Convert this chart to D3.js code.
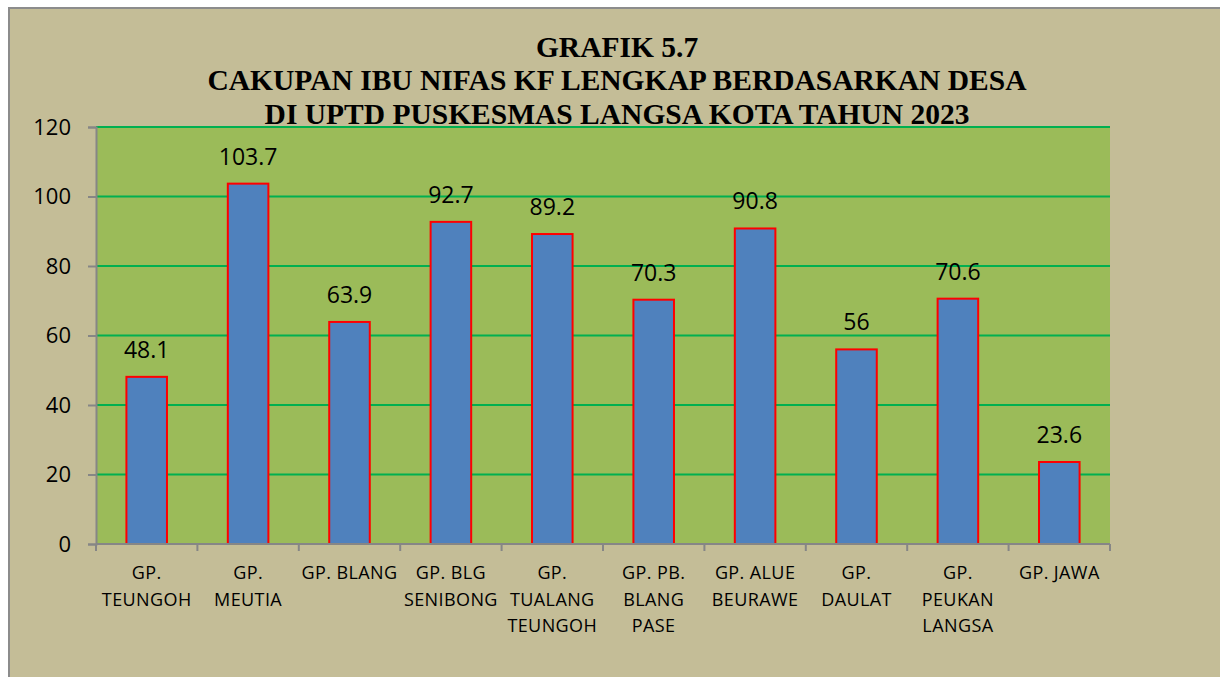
<!DOCTYPE html>
<html>
<head>
<meta charset="utf-8">
<script src="https://cdn.jsdelivr.net/npm/d3@7"></script>
<style>
  body { margin: 0; background: #fff; }
  svg { display: block; }
</style>
</head>
<body>
<div id="chart"></div>
<script>
var vWidth = 1220;
var vHeight = 677;

// data
var categories = [
    ["GP.", "TEUNGOH"],
    ["GP.", "MEUTIA"],
    ["GP. BLANG"],
    ["GP. BLG", "SENIBONG"],
    ["GP.", "TUALANG", "TEUNGOH"],
    ["GP. PB.", "BLANG", "PASE"],
    ["GP. ALUE", "BEURAWE"],
    ["GP.", "DAULAT"],
    ["GP.", "PEUKAN", "LANGSA"],
    ["GP. JAWA"]
];
var values = [48.1, 103.7, 63.9, 92.7, 89.2, 70.3, 90.8, 56, 70.6, 23.6];
var yTicks = [0, 20, 40, 60, 80, 100, 120];
var titleLines = [
    "GRAFIK 5.7",
    "CAKUPAN IBU NIFAS KF LENGKAP BERDASARKAN DESA",
    "DI UPTD PUSKESMAS LANGSA KOTA TAHUN 2023"
];

var plot = { left: 96, right: 1110, top: 127, bottom: 544 };
var labelFont = "'Open Sans', 'Liberation Sans', sans-serif";

var svg = d3.select("#chart")
    .append("svg")
        .attr("width", vWidth)
        .attr("height", vHeight);

// chart area background + border
svg.append("rect")
    .attr("x", 9).attr("y", 8)
    .attr("width", vWidth).attr("height", vHeight)
    .style("fill", "#C4BD97")
    .style("stroke", "#8c8c8c")
    .style("stroke-width", 2);

var x = d3.scaleBand()
    .domain(d3.range(categories.length))
    .range([plot.left, plot.right])
    .paddingInner(0.6)
    .paddingOuter(0.3);

var y = d3.scaleLinear()
    .domain([0, 120])
    .range([plot.bottom, plot.top]);

// plot area
svg.append("rect")
    .attr("x", plot.left).attr("y", plot.top)
    .attr("width", plot.right - plot.left).attr("height", plot.bottom - plot.top)
    .style("fill", "#9BBB59");

// gridlines
svg.append("g").selectAll("line")
    .data(yTicks.filter(function (d) { return d > 0; }))
    .enter().append("line")
        .attr("x1", plot.left).attr("x2", plot.right)
        .attr("y1", function (d) { return y(d); })
        .attr("y2", function (d) { return y(d); })
        .style("stroke", "#00B050")
        .style("stroke-width", 2);

// bars
svg.append("g").selectAll("rect")
    .data(values)
    .enter().append("rect")
        .attr("x", function (d, i) { return x(i); })
        .attr("y", function (d) { return y(d); })
        .attr("width", x.bandwidth())
        .attr("height", function (d) { return y(0) - y(d); })
        .style("fill", "#4F81BD")
        .style("stroke", "#FF0000")
        .style("stroke-width", 2);

// value labels
svg.append("g").selectAll("text")
    .data(values)
    .enter().append("text")
        .attr("x", function (d, i) { return x(i) + x.bandwidth() / 2; })
        .attr("y", function (d) { return y(d) - 19; })
        .attr("text-anchor", "middle")
        .style("font-family", labelFont)
        .style("font-size", "23px")
        .style("fill", "#000")
        .text(function (d) { return d; });

// y axis
var yAxis = d3.axisLeft(y).tickValues(yTicks).tickSize(8).tickPadding(17);
var gy = svg.append("g")
    .attr("transform", "translate(" + plot.left + ",0)")
    .call(yAxis);
gy.select(".domain").style("stroke", "#868686").style("stroke-width", 2);
gy.selectAll(".tick line").style("stroke", "#868686").style("stroke-width", 2);
gy.selectAll(".tick text")
    .style("font-family", labelFont)
    .style("font-size", "22px")
    .style("fill", "#000");

// x axis line + ticks at band boundaries
var bounds = d3.range(categories.length + 1).map(function (i) {
    return plot.left + i * (plot.right - plot.left) / categories.length;
});
svg.append("line")
    .attr("x1", plot.left).attr("x2", plot.right)
    .attr("y1", plot.bottom).attr("y2", plot.bottom)
    .style("stroke", "#868686").style("stroke-width", 2);
svg.append("g").selectAll("line")
    .data(bounds)
    .enter().append("line")
        .attr("x1", function (d) { return d; }).attr("x2", function (d) { return d; })
        .attr("y1", plot.bottom).attr("y2", plot.bottom + 7)
        .style("stroke", "#868686").style("stroke-width", 2);

// category labels
var xl = svg.append("g").selectAll("text")
    .data(categories)
    .enter().append("text")
        .attr("text-anchor", "middle")
        .style("font-family", labelFont)
        .style("font-size", "18px")
        .style("letter-spacing", "0.4px")
        .style("fill", "#000");
xl.selectAll("tspan")
    .data(function (d, i) { return d.map(function (s) { return { s: s, i: i }; }); })
    .enter().append("tspan")
        .attr("x", function (d) { return x(d.i) + x.bandwidth() / 2; })
        .attr("y", function (d, j) { return 579 + j * 26.5; })
        .text(function (d) { return d.s; });

// title
svg.append("g").selectAll("text")
    .data(titleLines)
    .enter().append("text")
        .attr("x", 617)
        .attr("y", function (d, i) { return 56.5 + i * 33.5; })
        .attr("text-anchor", "middle")
        .style("font-family", "'Liberation Serif', 'Times New Roman', serif")
        .style("font-weight", "bold")
        .style("font-size", "29.5px")
        .style("fill", "#000")
        .text(function (d) { return d; });
</script>
</body>
</html>
